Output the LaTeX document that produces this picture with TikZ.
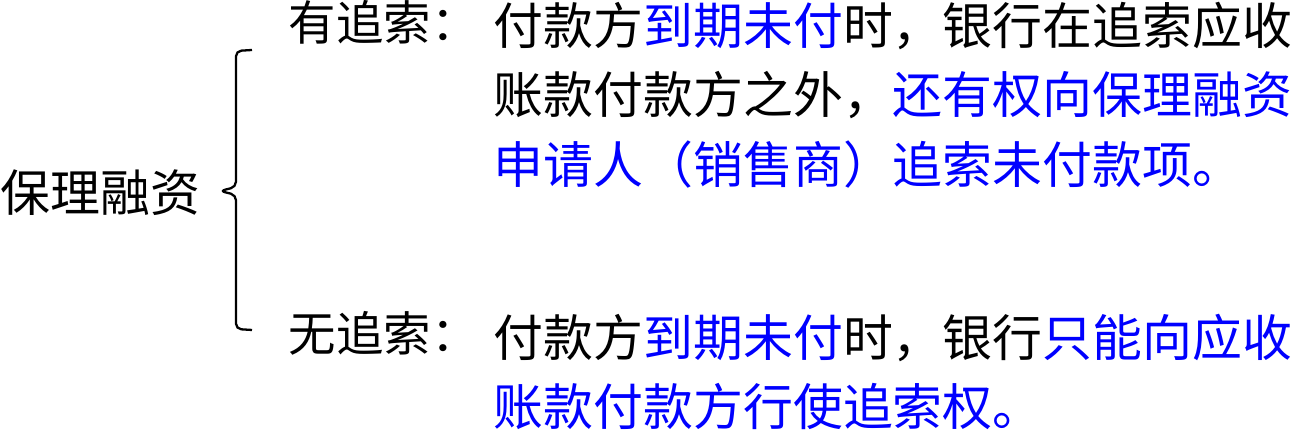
\documentclass[tikz,border=0pt]{standalone}
\usepackage{fontspec}
\setmainfont{Noto Sans CJK SC}
\usepackage{tikz}
\usetikzlibrary{positioning}
\definecolor{hl}{RGB}{0,0,255}
\tikzstyle{topic} = [anchor=west, inner sep=0pt, font=\fontsize{14.2}{19.9}\selectfont]
\tikzstyle{tag} = [anchor=north west, inner sep=0pt, font=\fontsize{13.5}{19}\selectfont]
\tikzstyle{para} = [anchor=north west, inner sep=0pt, text width=8.2cm, align=left, font=\fontsize{14.2}{19.9}\selectfont]
\tikzstyle{bracket} = [line width=0.65pt, rounded corners=1.5pt]

\begin{document}
\begin{tikzpicture}
\useasboundingbox (0,0) rectangle (12.93,4.34);
\node (fin) [topic] at (0,2.41) {保理融资};
\coordinate (bt) at (2.52,3.84);
\coordinate (bk) at (2.20,2.43);
\coordinate (bb) at (2.52,1.04);
\draw [bracket] (bt) -- ++(-0.16,-0.01) -- ++(0,-1.36) -- (bk) -- ++(0.16,-0.04) -- ++(0,-1.34) -- (bb);
\node (rec) [tag] at (2.88,4.34) {有追索：};
\node (rectxt) [para] at (4.93,4.33) {付款方{\color{hl}到期未付}时，银行在追索应收\\账款付款方之外，{\color{hl}还有权向保理融资}\\{\color{hl}申请人（销售商）追索未付款项。}};
\node (norec) [tag] at (2.88,1.23) {无追索：};
\node (norectxt) [para] at (4.93,1.21) {付款方{\color{hl}到期未付}时，银行{\color{hl}只能向应收}\\{\color{hl}账款付款方行使追索权。}};
\end{tikzpicture}
\end{document}
